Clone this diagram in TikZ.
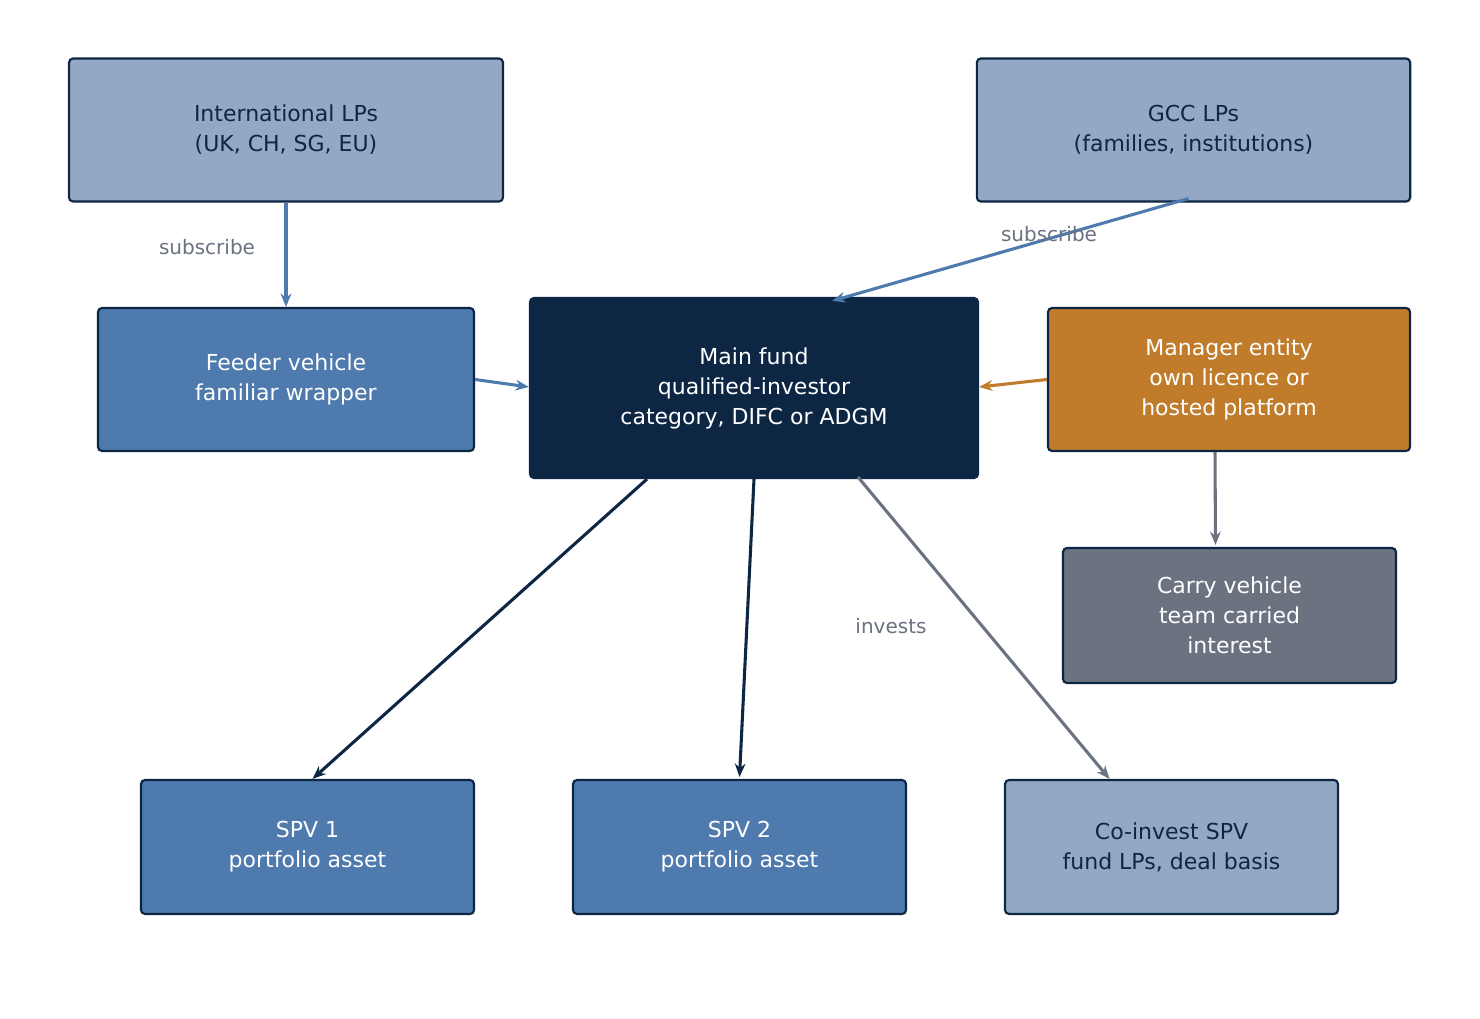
\documentclass[tikz,border=0pt]{standalone}
\usepackage{fontspec}
\setmainfont{DejaVu Sans}
\usetikzlibrary{arrows.meta,calc}
\definecolor{navy}{HTML}{0D2644}
\definecolor{light}{HTML}{93A8C5}
\definecolor{mid}{HTML}{4E7AAD}
\definecolor{orng}{HTML}{C07B2B}
\definecolor{gry}{HTML}{6B7280}
\begin{document}
\begin{tikzpicture}[x=0.75pt,y=-0.75pt,
  box/.style={draw=navy,line width=1.6pt,rounded corners=3pt,align=center,inner sep=0pt,
    font=\fontsize{16.5}{22.5}\selectfont},
  lbox/.style={box,fill=light,text=navy},
  bbox/.style={box,fill=mid,text=white},
  arr/.style={line width=2.3pt,-{Stealth[length=10pt,width=8pt]}},
  lbl/.style={text=gry,font=\fontsize{15}{18}\selectfont}]
\useasboundingbox[fill=white] (0,0) rectangle (1480,1019);
\node[lbox,minimum width=325.5pt,minimum height=107.25pt] (intl) at (286,130) {International LPs\\(UK, CH, SG, EU)};
\node[lbox,minimum width=325pt,minimum height=107.25pt] (gcc) at (1193.5,130) {GCC LPs\\(families, institutions)};
\node[bbox,minimum width=282pt,minimum height=107.25pt] (feeder) at (286,379.5) {Feeder vehicle\\familiar wrapper};
\node[box,fill=navy,text=white,minimum width=336pt,minimum height=135pt] (main) at (754,388) {Main fund\\qualified-investor\\category, DIFC or ADGM};
\node[box,fill=orng,text=white,minimum width=271.5pt,minimum height=107.25pt] (mgr) at (1229,379.5) {Manager entity\\own licence or\\hosted platform};
\node[box,fill=gry,text=white,minimum width=249.75pt,minimum height=101.25pt] (carry) at (1229.5,615.5) {Carry vehicle\\team carried\\interest};
\node[bbox,minimum width=249.75pt,minimum height=100.5pt] (spv1) at (307.5,847) {SPV 1\\portfolio asset};
\node[bbox,minimum width=249.75pt,minimum height=100.5pt] (spv2) at (739.5,847) {SPV 2\\portfolio asset};
\node[lbox,minimum width=249.75pt,minimum height=100.5pt] (coinv) at (1171.5,847) {Co-invest SPV\\fund LPs, deal basis};
\coordinate (gccs) at ($(gcc.south)+(-5,-4)$);
\coordinate (mainn) at ($(main.north)+(78,4)$);
\draw[arr,mid] (intl.south) -- (feeder.north);
\draw[arr,mid] (gccs) -- (mainn);
\draw[arr,mid] (feeder.east) -- ($(main.west)+(0,-1)$);
\draw[arr,orng] (mgr.west) -- ($(main.east)+(0,-1)$);
\draw[arr,gry] ($(mgr.south)+(-14,0)$) -- ($(carry.north)+(-14,-2)$);
\draw[arr,navy] ($(main.south)+(-107,0)$) -- ($(spv1.north)+(5,0)$);
\draw[arr,navy] (main.south) -- ($(spv2.north)+(0,-2)$);
\draw[arr,gry] ($(main.south)+(104,-2)$) -- ($(coinv.north)+(-62,0)$);
\node[lbl] (l1) at (207,247) {subscribe};
\node[lbl] (l2) at (1049,234) {subscribe};
\node[lbl] (l3) at (891,626) {invests};
\end{tikzpicture}
\end{document}
